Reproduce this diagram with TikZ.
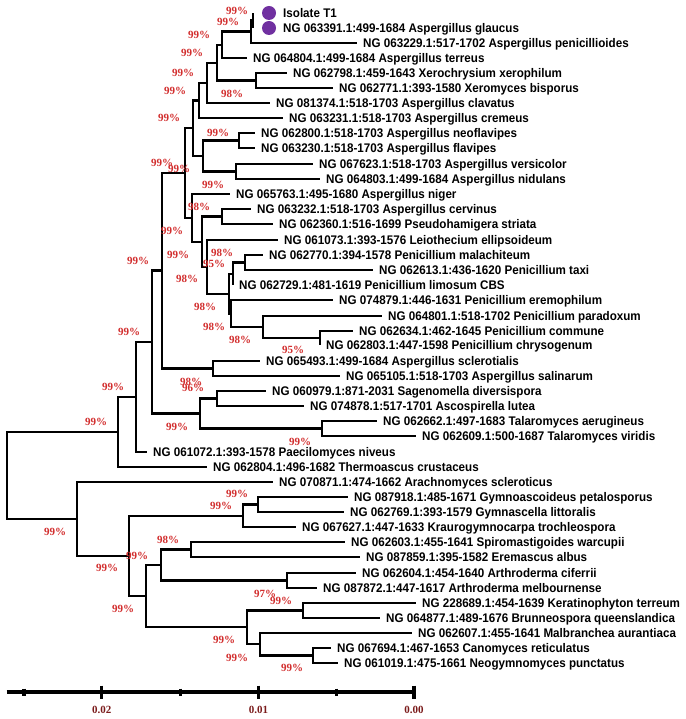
\documentclass[tikz,border=0pt]{standalone}
\usepackage{fontspec}
\newfontfamily\taxfont[FakeStretch=0.93]{Liberation Sans Bold}
\newfontfamily\bootfont{Liberation Serif Bold}
\definecolor{bootred}{HTML}{D22E2E}
\definecolor{isolatepurple}{HTML}{7030A0}
\definecolor{axisred}{HTML}{7B1C1C}

\begin{document}
\begin{tikzpicture}[x=1pt,y=-1pt]
	\tikzset{EdgeStyle/.style = {line width = 2.4pt, color = black},
		LeafStyle/.style =
		{anchor = west,
			inner xsep = 6pt,
			inner ysep = 0pt,
			text height = 9pt,
			text depth = 0pt,
			font = \taxfont\fontsize{12.5}{14}\selectfont},
		BootStyle/.style =
		{inner sep = 0pt,
			text = bootred,
			font = \bootfont\fontsize{11}{12}\selectfont},
		DotStyle/.style =
		{circle,
			fill = isolatepurple,
			minimum size = 14pt,
			inner sep = 0pt},
		AxisStyle/.style = {line width = 3.2pt},
		AxisLabel/.style = {text = axisred, font = \bootfont\fontsize{11}{12}\selectfont}}
	\useasboundingbox (0,0) rectangle (685,719);

	% leaves
	\coordinate (tipT1) at (253,13);
	\coordinate (tipglaucus) at (253,28);
	\node[DotStyle] (dotT1) at (269,13) {};
	\node[DotStyle] (dotglaucus) at (269,28) {};
	\node[LeafStyle] (T1) at (277,13) {Isolate T1};
	\node[LeafStyle] (glaucus) at (277,28) {NG 063391.1:499-1684 Aspergillus glaucus};
	\node[LeafStyle] (penicillioides) at (357,43) {NG 063229.1:517-1702 Aspergillus penicillioides};
	\node[LeafStyle] (terreus) at (247,58) {NG 064804.1:499-1684 Aspergillus terreus};
	\node[LeafStyle] (xerophilum) at (287,73) {NG 062798.1:459-1643 Xerochrysium xerophilum};
	\node[LeafStyle] (bisporus) at (333,88) {NG 062771.1:393-1580 Xeromyces bisporus};
	\node[LeafStyle] (clavatus) at (270,103) {NG 081374.1:518-1703 Aspergillus clavatus};
	\node[LeafStyle] (cremeus) at (283,118) {NG 063231.1:518-1703 Aspergillus cremeus};
	\node[LeafStyle] (neoflavipes) at (255,133) {NG 062800.1:518-1703 Aspergillus neoflavipes};
	\node[LeafStyle] (flavipes) at (255,148) {NG 063230.1:518-1703 Aspergillus flavipes};
	\node[LeafStyle] (versicolor) at (313,164) {NG 067623.1:518-1703 Aspergillus versicolor};
	\node[LeafStyle] (nidulans) at (320,179) {NG 064803.1:499-1684 Aspergillus nidulans};
	\node[LeafStyle] (niger) at (230,194) {NG 065763.1:495-1680 Aspergillus niger};
	\node[LeafStyle] (cervinus) at (251,209) {NG 063232.1:518-1703 Aspergillus cervinus};
	\node[LeafStyle] (striata) at (273,224) {NG 062360.1:516-1699 Pseudohamigera striata};
	\node[LeafStyle] (ellipsoideum) at (278,240) {NG 061073.1:393-1576 Leiothecium ellipsoideum};
	\node[LeafStyle] (malachiteum) at (263,255) {NG 062770.1:394-1578 Penicillium malachiteum};
	\node[LeafStyle] (taxi) at (373,270) {NG 062613.1:436-1620 Penicillium taxi};
	\node[LeafStyle] (limosum) at (233,285) {NG 062729.1:481-1619 Penicillium limosum CBS};
	\node[LeafStyle] (eremophilum) at (333,300) {NG 074879.1:446-1631 Penicillium eremophilum};
	\node[LeafStyle] (paradoxum) at (382,316) {NG 064801.1:518-1702 Penicillium paradoxum};
	\node[LeafStyle] (commune) at (353,331) {NG 062634.1:462-1645 Penicillium commune};
	\node[LeafStyle] (chrysogenum) at (320,345) {NG 062803.1:447-1598 Penicillium chrysogenum};
	\node[LeafStyle] (sclerotialis) at (260,361) {NG 065493.1:499-1684 Aspergillus sclerotialis};
	\node[LeafStyle] (salinarum) at (340,376) {NG 065105.1:518-1703 Aspergillus salinarum};
	\node[LeafStyle] (diversispora) at (266,391) {NG 060979.1:871-2031 Sagenomella diversispora};
	\node[LeafStyle] (lutea) at (304,406) {NG 074878.1:517-1701 Ascospirella lutea};
	\node[LeafStyle] (aerugineus) at (377,421) {NG 062662.1:497-1683 Talaromyces aerugineus};
	\node[LeafStyle] (viridis) at (416,436) {NG 062609.1:500-1687 Talaromyces viridis};
	\node[LeafStyle] (niveus) at (147,452) {NG 061072.1:393-1578 Paecilomyces niveus};
	\node[LeafStyle] (crustaceus) at (207,467) {NG 062804.1:496-1682 Thermoascus crustaceus};
	\node[LeafStyle] (scleroticus) at (273,482) {NG 070871.1:474-1662 Arachnomyces scleroticus};
	\node[LeafStyle] (petalosporus) at (348,497) {NG 087918.1:485-1671 Gymnoascoideus petalosporus};
	\node[LeafStyle] (littoralis) at (344,512) {NG 062769.1:393-1579 Gymnascella littoralis};
	\node[LeafStyle] (trochleospora) at (296,527) {NG 067627.1:447-1633 Kraurogymnocarpa trochleospora};
	\node[LeafStyle] (warcupii) at (345,542) {NG 062603.1:455-1641 Spiromastigoides warcupii};
	\node[LeafStyle] (albus) at (360,557) {NG 087859.1:395-1582 Eremascus albus};
	\node[LeafStyle] (ciferrii) at (356,573) {NG 062604.1:454-1640 Arthroderma ciferrii};
	\node[LeafStyle] (melbournense) at (317,588) {NG 087872.1:447-1617 Arthroderma melbournense};
	\node[LeafStyle] (terreum) at (416,603) {NG 228689.1:454-1639 Keratinophyton terreum};
	\node[LeafStyle] (queenslandica) at (380,618) {NG 064877.1:489-1676 Brunneospora queenslandica};
	\node[LeafStyle] (aurantiaca) at (412,633) {NG 062607.1:455-1641 Malbranchea aurantiaca};
	\node[LeafStyle] (reticulatus) at (331,648) {NG 067694.1:467-1653 Canomyces reticulatus};
	\node[LeafStyle] (punctatus) at (338,663) {NG 061019.1:475-1661 Neogymnomyces punctatus};

	% inner nodes
	\coordinate (nTG) at (253,20.5);
	\coordinate (nA) at (251,31.5);
	\coordinate (nB) at (222,45);
	\coordinate (nC) at (256,80.5);
	\coordinate (nD) at (217,63);
	\coordinate (nE) at (207,83);
	\coordinate (nF) at (199,100.5);
	\coordinate (nH) at (239,140.5);
	\coordinate (nI) at (236,171.5);
	\coordinate (nG) at (203,156);
	\coordinate (nJ) at (193,128);
	\coordinate (nL) at (222,216.5);
	\coordinate (nS) at (245,262.5);
	\coordinate (nT) at (233,274);
	\coordinate (nW) at (320,338);
	\coordinate (nV) at (263,327);
	\coordinate (nU) at (231,313.5);
	\coordinate (nP) at (229,294);
	\coordinate (nO) at (207,267);
	\coordinate (nN) at (202,242);
	\coordinate (nM) at (192,218);
	\coordinate (nK) at (185,173);
	\coordinate (nY) at (213,368.5);
	\coordinate (nQ) at (162,270.5);
	\coordinate (nAB) at (217,398.5);
	\coordinate (nAC) at (322,428.5);
	\coordinate (nAA) at (200,413.5);
	\coordinate (nZ) at (152,342);
	\coordinate (nAD) at (136,397);
	\coordinate (nAE) at (118,432);
	\coordinate (nAI) at (258,504.5);
	\coordinate (nAH) at (243,516);
	\coordinate (nAL) at (191,549.5);
	\coordinate (nAM) at (287,580.5);
	\coordinate (nAK) at (161,565);
	\coordinate (nAO) at (303,610.5);
	\coordinate (nAQ) at (313,655.5);
	\coordinate (nAP) at (260,644);
	\coordinate (nAN) at (247,627);
	\coordinate (nAJ) at (146,596);
	\coordinate (nAG) at (129,556);
	\coordinate (nAF) at (77,519);
	\coordinate (root) at (7,475.5);

	\draw[EdgeStyle] (nTG) |- (tipT1) (nTG) |- (tipglaucus);
	\draw[EdgeStyle] (nA) |- (nTG) (nA) |- (penicillioides.west);
	\draw[EdgeStyle] (nB) |- (nA) (nB) |- (terreus.west);
	\draw[EdgeStyle] (nC) |- (xerophilum.west) (nC) |- (bisporus.west);
	\draw[EdgeStyle] (nD) |- (nB) (nD) |- (nC);
	\draw[EdgeStyle] (nE) |- (nD) (nE) |- (clavatus.west);
	\draw[EdgeStyle] (nF) |- (nE) (nF) |- (cremeus.west);
	\draw[EdgeStyle] (nH) |- (neoflavipes.west) (nH) |- (flavipes.west);
	\draw[EdgeStyle] (nI) |- (versicolor.west) (nI) |- (nidulans.west);
	\draw[EdgeStyle] (nG) |- (nH) (nG) |- (nI);
	\draw[EdgeStyle] (nJ) |- (nF) (nJ) |- (nG);
	\draw[EdgeStyle] (nL) |- (cervinus.west) (nL) |- (striata.west);
	\draw[EdgeStyle] (nS) |- (malachiteum.west) (nS) |- (taxi.west);
	\draw[EdgeStyle] (nT) |- (nS) (nT) |- (limosum.west);
	\draw[EdgeStyle] (nW) |- (commune.west) (nW) |- (chrysogenum.west);
	\draw[EdgeStyle] (nV) |- (paradoxum.west) (nV) |- (nW);
	\draw[EdgeStyle] (nU) |- (eremophilum.west) (nU) |- (nV);
	\draw[EdgeStyle] (nP) |- (nT) (nP) |- (nU);
	\draw[EdgeStyle] (nO) |- (ellipsoideum.west) (nO) |- (nP);
	\draw[EdgeStyle] (nN) |- (nL) (nN) |- (nO);
	\draw[EdgeStyle] (nM) |- (niger.west) (nM) |- (nN);
	\draw[EdgeStyle] (nK) |- (nJ) (nK) |- (nM);
	\draw[EdgeStyle] (nY) |- (sclerotialis.west) (nY) |- (salinarum.west);
	\draw[EdgeStyle] (nQ) |- (nK) (nQ) |- (nY);
	\draw[EdgeStyle] (nAB) |- (diversispora.west) (nAB) |- (lutea.west);
	\draw[EdgeStyle] (nAC) |- (aerugineus.west) (nAC) |- (viridis.west);
	\draw[EdgeStyle] (nAA) |- (nAB) (nAA) |- (nAC);
	\draw[EdgeStyle] (nZ) |- (nQ) (nZ) |- (nAA);
	\draw[EdgeStyle] (nAD) |- (nZ) (nAD) |- (niveus.west);
	\draw[EdgeStyle] (nAE) |- (nAD) (nAE) |- (crustaceus.west);
	\draw[EdgeStyle] (nAI) |- (petalosporus.west) (nAI) |- (littoralis.west);
	\draw[EdgeStyle] (nAH) |- (nAI) (nAH) |- (trochleospora.west);
	\draw[EdgeStyle] (nAL) |- (warcupii.west) (nAL) |- (albus.west);
	\draw[EdgeStyle] (nAM) |- (ciferrii.west) (nAM) |- (melbournense.west);
	\draw[EdgeStyle] (nAK) |- (nAL) (nAK) |- (nAM);
	\draw[EdgeStyle] (nAO) |- (terreum.west) (nAO) |- (queenslandica.west);
	\draw[EdgeStyle] (nAQ) |- (reticulatus.west) (nAQ) |- (punctatus.west);
	\draw[EdgeStyle] (nAP) |- (aurantiaca.west) (nAP) |- (nAQ);
	\draw[EdgeStyle] (nAN) |- (nAO) (nAN) |- (nAP);
	\draw[EdgeStyle] (nAJ) |- (nAK) (nAJ) |- (nAN);
	\draw[EdgeStyle] (nAG) |- (nAH) (nAG) |- (nAJ);
	\draw[EdgeStyle] (nAF) |- (scleroticus.west) (nAF) |- (nAG);
	\draw[EdgeStyle] (root) |- (nAE) (root) |- (nAF);

	% bootstrap values
	\node[BootStyle] (b1) at (237,11) {99\%};
	\node[BootStyle] (b2) at (228,22) {99\%};
	\node[BootStyle] (b3) at (199,35) {99\%};
	\node[BootStyle] (b4) at (192,53) {99\%};
	\node[BootStyle] (b5) at (183,73) {99\%};
	\node[BootStyle] (b6) at (175,91) {99\%};
	\node[BootStyle] (b7) at (232,94) {98\%};
	\node[BootStyle] (b8) at (169,118) {99\%};
	\node[BootStyle] (b9) at (218,133) {99\%};
	\node[BootStyle] (b10) at (162,163) {99\%};
	\node[BootStyle] (b11) at (179,169) {99\%};
	\node[BootStyle] (b12) at (213,185) {99\%};
	\node[BootStyle] (b13) at (199,207) {98\%};
	\node[BootStyle] (b14) at (172,231) {99\%};
	\node[BootStyle] (b15) at (178,255) {99\%};
	\node[BootStyle] (b16) at (222,253) {98\%};
	\node[BootStyle] (b17) at (214,264) {95\%};
	\node[BootStyle] (b18) at (138,261) {99\%};
	\node[BootStyle] (b19) at (187,279) {98\%};
	\node[BootStyle] (b20) at (205,307) {98\%};
	\node[BootStyle] (b21) at (214,327) {98\%};
	\node[BootStyle] (b22) at (240,340) {98\%};
	\node[BootStyle] (b23) at (129,332) {99\%};
	\node[BootStyle] (b24) at (293,350) {95\%};
	\node[BootStyle] (b25) at (191,382) {98\%};
	\node[BootStyle] (b26) at (193,388) {96\%};
	\node[BootStyle] (b27) at (113,387) {99\%};
	\node[BootStyle] (b28) at (96,422) {99\%};
	\node[BootStyle] (b29) at (177,427) {99\%};
	\node[BootStyle] (b30) at (300,442) {99\%};
	\node[BootStyle] (b31) at (237,494) {99\%};
	\node[BootStyle] (b32) at (221,506) {99\%};
	\node[BootStyle] (b33) at (55,532) {99\%};
	\node[BootStyle] (b34) at (168,540) {98\%};
	\node[BootStyle] (b35) at (137,556) {99\%};
	\node[BootStyle] (b36) at (107,568) {99\%};
	\node[BootStyle] (b37) at (265,594) {97\%};
	\node[BootStyle] (b38) at (281,601) {99\%};
	\node[BootStyle] (b39) at (123,609) {99\%};
	\node[BootStyle] (b40) at (224,640) {99\%};
	\node[BootStyle] (b41) at (237,658) {99\%};
	\node[BootStyle] (b42) at (292,668) {99\%};

	% scale axis
	\coordinate (axisL) at (6.5,692);
	\coordinate (axisR) at (414,692);
	\draw[AxisStyle] (axisL) -- (axisR);
	\foreach \x in {24,180.4,336.8}
		\draw[AxisStyle] (\x,688.5) -- (\x,695.5);
	\foreach \x/\v/\n in {101.8/0.02/a,258.6/0.01/b,414/0.00/c}{
		\draw[AxisStyle] (\x,685.5) -- (\x,698.5);
		\node[AxisLabel] (axis\n) at (\x,710) {\v};}
\end{tikzpicture}
\end{document}
